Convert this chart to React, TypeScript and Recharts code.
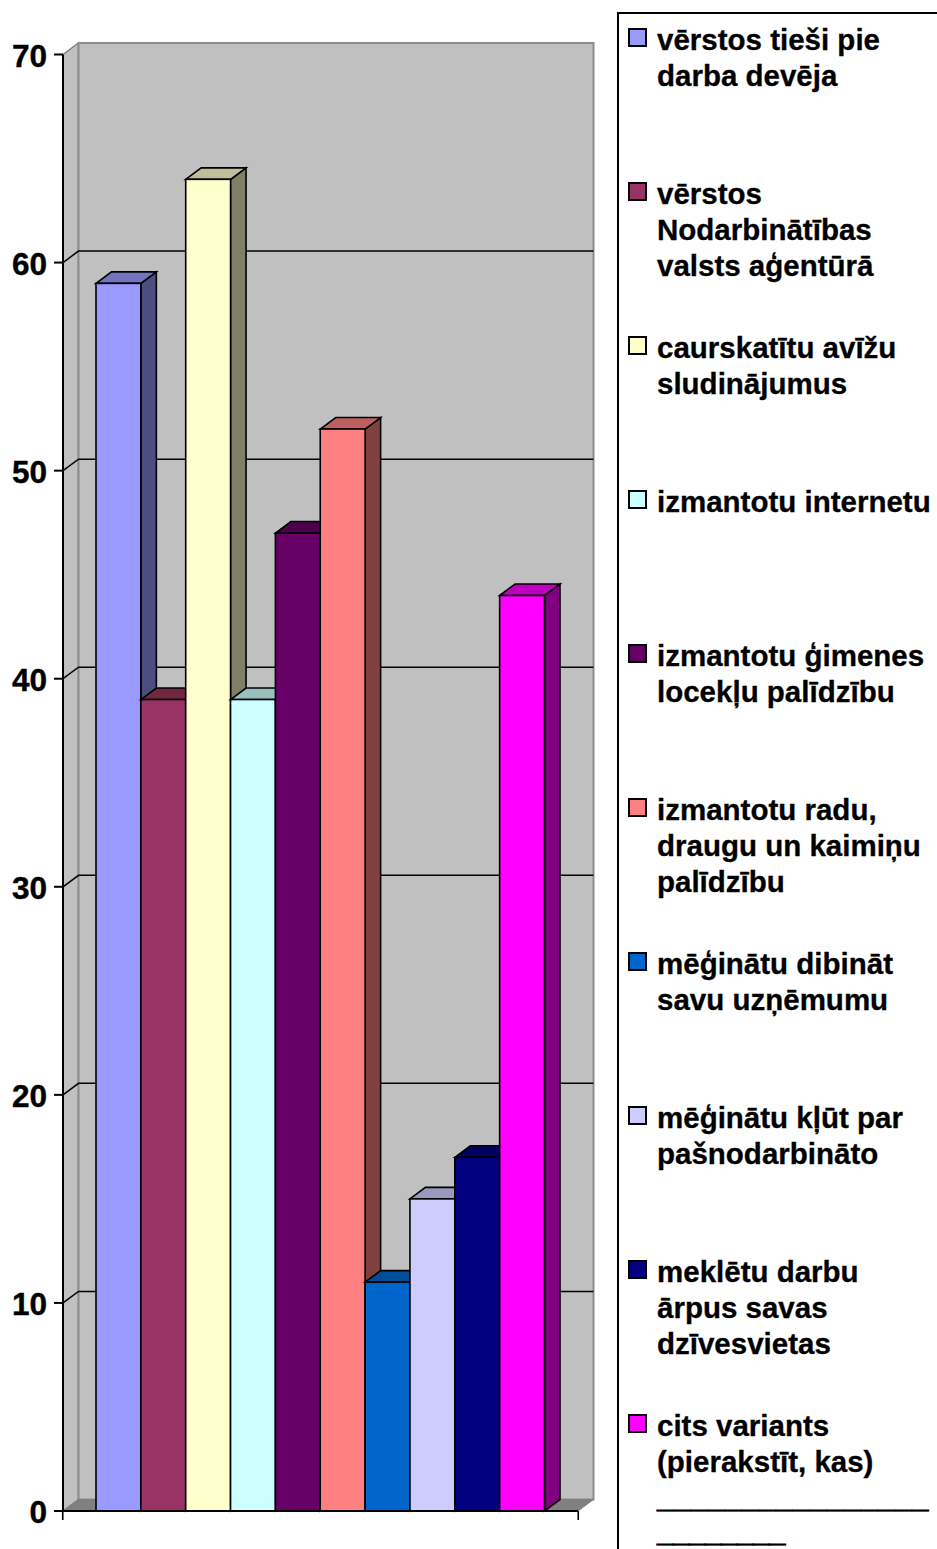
import React from "react";
import { BarChart, Bar, XAxis, YAxis, CartesianGrid, Legend } from "recharts";

const categories = [""];
const yTicks = [0, 10, 20, 30, 40, 50, 60, 70];
const seriesNames = [
  "vērstos tieši pie\ndarba devēja",
  "vērstos\nNodarbinātības\nvalsts aģentūrā",
  "caurskatītu avīžu\nsludinājumus",
  "izmantotu internetu",
  "izmantotu ģimenes\nlocekļu palīdzību",
  "izmantotu radu,\ndraugu un kaimiņu\npalīdzību",
  "mēģinātu dibināt\nsavu uzņēmumu",
  "mēģinātu kļūt par\npašnodarbināto",
  "meklētu darbu\nārpus savas\ndzīvesvietas",
  "cits variants\n(pierakstīt, kas)\n________________\n________",
];
const seriesValues = [59, 39, 64, 39, 47, 52, 11, 15, 17, 44];
const seriesFront = ["#9999ff", "#993366", "#ffffcc", "#ccffff", "#660066", "#ff8080", "#0066cc", "#ccccff", "#000080", "#ff00ff"];
const seriesTop = ["#7373bf", "#732640", "#bfbf99", "#99bfbf", "#4d004d", "#bf6060", "#004d99", "#9999bf", "#000060", "#bf00bf"];
const seriesSide = ["#4d4d80", "#4d1a33", "#808066", "#668080", "#330033", "#804040", "#003366", "#666680", "#000040", "#800080"];

const DX = 15.5;
const DY = 11.5;
const FONT = "'Liberation Sans', Arial, sans-serif";

const data = categories.map((name) => {
  const row: Record<string, string | number> = { name };
  seriesNames.forEach((_, i) => {
    row[`s${i}`] = seriesValues[i];
  });
  return row;
});

const bar3D = (i: number) => (p: any) => {
  const { x, y, width: w, height: h } = p;
  return (
    <g stroke="#000" strokeWidth={1.6} strokeLinejoin="miter">
      <polygon points={`${x + w},${y} ${x + w + DX},${y - DY} ${x + w + DX},${y + h - DY} ${x + w},${y + h}`} fill={seriesSide[i]} />
      <polygon points={`${x},${y} ${x + DX},${y - DY} ${x + w + DX},${y - DY} ${x + w},${y}`} fill={seriesTop[i]} />
      <rect x={x} y={y} width={w} height={h} fill={seriesFront[i]} />
    </g>
  );
};

const wallLine = (p: any) => {
  const { x, y, width, height, y1, index } = p;
  if (Math.abs(y1 - y) > 0.5) return <g key={index} />;
  const b = y + height;
  const r = x + width;
  return (
    <g key={index}>
      <polygon points={`${x},${y} ${x + DX},${y - DY} ${x + DX},${b - DY} ${x},${b}`} fill="#c0c0c0" stroke="#808080" strokeWidth={1.5} />
      <rect x={x + DX} y={y - DY} width={width} height={height} fill="#c0c0c0" stroke="#8c8c8c" strokeWidth={2} />
      <polygon points={`${x},${b} ${x + DX},${b - DY} ${r + DX},${b - DY} ${r},${b}`} fill="#808080" stroke="#808080" strokeWidth={1} />
    </g>
  );
};

const gridLine = (p: any) => {
  const { x, y, height, x1, x2, y1, index } = p;
  if (Math.abs(y1 - y) < 0.5 || Math.abs(y1 - (y + height)) < 0.5) return <g key={index} />;
  return (
    <polyline key={index} points={`${x1},${y1} ${x1 + DX},${y1 - DY} ${x2 + DX},${y1 - DY}`} fill="none" stroke="#000" strokeWidth={1.5} />
  );
};

const XEndTicks = (p: any) => {
  const half = 257.75;
  const cx = p.x;
  const top = p.y - 8;
  return (
    <g stroke="#000" strokeWidth={1.6}>
      <line x1={cx - half} y1={top} x2={cx - half} y2={top + 9} />
      <line x1={cx + half} y1={top} x2={cx + half} y2={top + 9} />
    </g>
  );
};

const legendLine = (line: string, k: number) => {
  const rule = line.startsWith("_");
  const long = line.length > 10;
  return (
    <div
      key={k}
      style={{
        letterSpacing: rule ? (long ? 0.6 : -0.4) : 0,
        WebkitTextStroke: rule ? "0.9px #000" : undefined,
        marginTop: rule && !long ? -2 : 0,
      }}
    >
      {line}
    </div>
  );
};

const LegendBox = () => (
  <div style={{ position: "relative", width: 330, height: 1537, borderLeft: "2px solid #000", borderTop: "2px solid #000", boxSizing: "border-box", fontFamily: FONT, fontWeight: 700, fontSize: 29.5, lineHeight: "36px", color: "#000", WebkitTextStroke: "0.3px #000" }}>
    {seriesNames.map((name, i) => (
      <div key={i} style={{ position: "absolute", left: 0, top: 8 + i * 154 }}>
        <div style={{ position: "absolute", left: 9, top: 6, width: 19, height: 19, boxSizing: "border-box", border: "2px solid #000", background: seriesFront[i] }} />
        <div style={{ position: "absolute", left: 38, top: 0, whiteSpace: "pre" }}>{name.split("\n").map(legendLine)}</div>
      </div>
    ))}
  </div>
);

export default function App() {
  return (
    <div style={{ position: "absolute", left: 0, top: 0, width: 937, height: 1549, overflow: "hidden", background: "#fff" }}>
      <BarChart
        width={937}
        height={1549}
        data={data}
        margin={{ top: 54.5, right: 359, bottom: 0, left: 0 }}
        barSize={44.85}
        barGap={0}
      >
        <CartesianGrid vertical={false} horizontal={wallLine} stroke="none" />
        <CartesianGrid vertical={false} horizontal={gridLine} />
        <XAxis dataKey="name" height={38} axisLine={{ stroke: "#000", strokeWidth: 2 }} tickLine={false} tick={XEndTicks} />
        <YAxis
          width={63}
          domain={[0, 70]}
          ticks={yTicks}
          interval={0}
          tickSize={9}
          tickMargin={7}
          axisLine={{ stroke: "#000", strokeWidth: 2 }}
          tickLine={{ stroke: "#000", strokeWidth: 2 }}
          tick={{ fill: "#000", stroke: "#000", strokeWidth: 0.4, fontFamily: FONT, fontWeight: 700, fontSize: 31.5, dy: 1 }}
        />
        <Legend
          layout="vertical"
          align="center"
          verticalAlign="middle"
          content={LegendBox}
          wrapperStyle={{ left: 617, top: 12, width: 320, height: 1537, margin: 0, overflow: "hidden" }}
        />
        {seriesNames.map((n, i) => (
          <Bar key={i} dataKey={`s${i}`} name={n} fill={seriesFront[i]} isAnimationActive={false} shape={bar3D(i)} />
        ))}
      </BarChart>
    </div>
  );
}
